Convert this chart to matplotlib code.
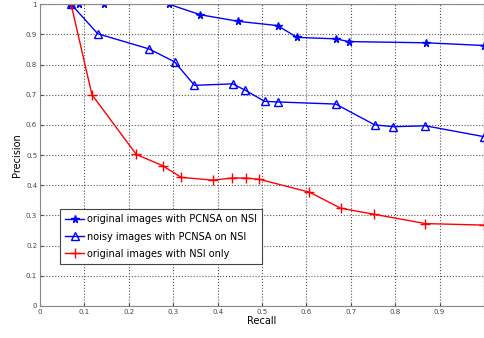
import matplotlib
matplotlib.use("Agg")
import matplotlib.pyplot as plt

# recall / precision values
rec_star = [0.07, 0.087, 0.145, 0.29, 0.361, 0.447, 0.535, 0.579, 0.667, 0.695, 0.870, 1.0]
prec_star = [1.0, 1.0, 1.0, 1.0, 0.965, 0.943, 0.929, 0.89, 0.885, 0.876, 0.872, 0.863]

rec_tri = [0.07, 0.130, 0.245, 0.303, 0.348, 0.434, 0.462, 0.506, 0.535, 0.666, 0.754, 0.796, 0.868, 1.0]
prec_tri = [1.0, 0.902, 0.852, 0.809, 0.731, 0.736, 0.715, 0.678, 0.676, 0.669, 0.600, 0.594, 0.597, 0.561]

rec_nsi = [0.07, 0.117, 0.217, 0.276, 0.318, 0.390, 0.433, 0.463, 0.493, 0.607, 0.677, 0.752, 0.868, 1.0]
prec_nsi = [1.0, 0.70, 0.502, 0.465, 0.426, 0.417, 0.424, 0.424, 0.420, 0.377, 0.324, 0.304, 0.273, 0.268]

labels = ["original images with PCNSA on NSI",
          "noisy images with PCNSA on NSI",
          "original images with NSI only"]

fig = plt.figure(figsize=(4.84, 3.38), dpi=100)
ax = fig.add_axes([0.0826, 0.0947, 0.9174, 0.893])

ax.plot(rec_star, prec_star, "b-*", lw=1, ms=5.5, label=labels[0])
ax.plot(rec_tri, prec_tri, "b-^", lw=1, ms=5.5, mfc="none", label=labels[1])
ax.plot(rec_nsi, prec_nsi, "r-+", lw=1, ms=7, label=labels[2])

ax.set_xlim(0, 1)
ax.set_ylim(0, 1)
ax.set_xticks([i / 10 for i in range(11)])
ax.set_yticks([i / 10 for i in range(11)])
ax.set_xticklabels(["0", "0.1", "0.2", "0.3", "0.4", "0.5", "0.6", "0.7", "0.8", "0.9", "1"])
ax.set_yticklabels(["0", "0.1", "0.2", "0.3", "0.4", "0.5", "0.6", "0.7", "0.8", "0.9", "1"])
ax.tick_params(labelsize=5, length=2, direction="in", colors="#444444", pad=2)
ax.grid(True, color="#555555", linestyle=":", linewidth=0.8)
for s in ax.spines.values():
    s.set_color("#888888")

ax.set_xlabel("Recall", fontsize=7, labelpad=1)
ax.set_ylabel("Precision", fontsize=7, labelpad=3)

leg = ax.legend(loc="lower left", bbox_to_anchor=(0.045, 0.14), fontsize=7,
                fancybox=False, edgecolor="#444444", framealpha=1,
                borderaxespad=0, handlelength=2.0, handletextpad=0.3,
                borderpad=0.5, labelspacing=0.75)
leg.get_frame().set_linewidth(0.8)

fig.savefig("out.png", dpi=100)
